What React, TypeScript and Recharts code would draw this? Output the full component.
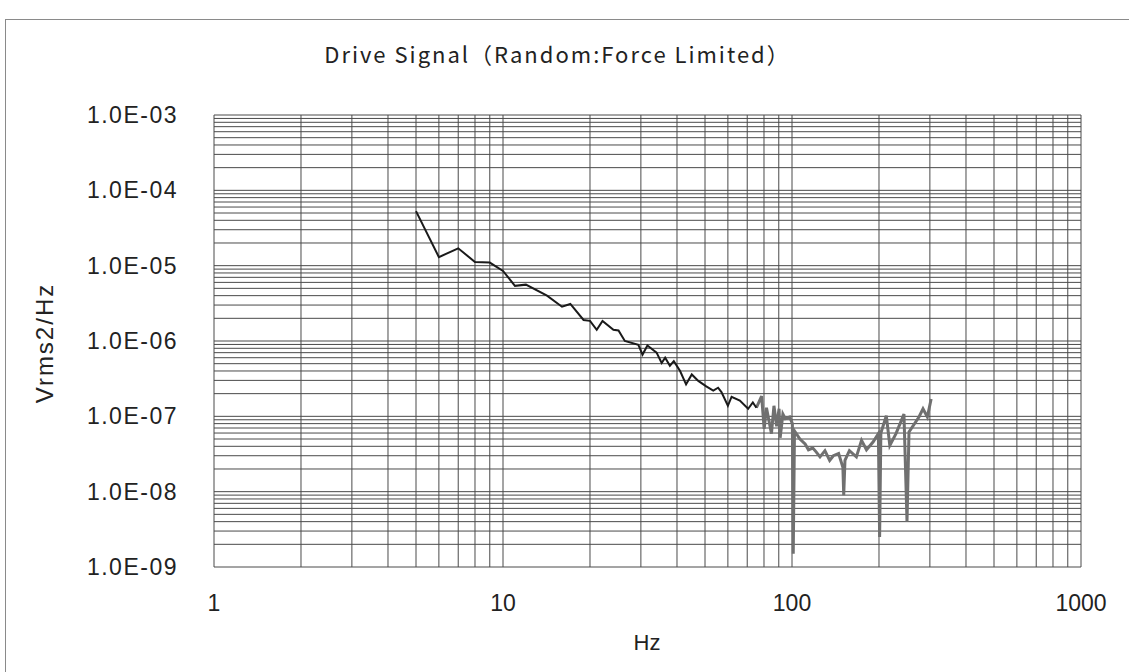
import { LineChart, Line, XAxis, YAxis, ReferenceLine } from 'recharts';

// Drive signal PSD (Hz, Vrms^2/Hz)
const freqLow = [
  5, 6, 7, 8, 9, 10, 11, 12, 14.2, 16, 17.1, 19, 20, 21.1, 22.1, 24.1, 25.1, 26.4, 29.4, 30.4,
  31.6, 34, 35.4, 36.4, 37.8, 39, 41, 43, 45, 47.4, 50.5, 53.4, 55.5, 57, 60, 61.8, 66, 70.5,
  73.2, 75.3,
];
const psdLow = [
  5.3e-5, 1.3e-5, 1.7e-5, 1.12e-5, 1.1e-5, 8.5e-6, 5.4e-6, 5.6e-6, 4.0e-6, 2.85e-6, 3.1e-6,
  1.9e-6, 1.85e-6, 1.41e-6, 1.85e-6, 1.41e-6, 1.38e-6, 1.0e-6, 8.9e-7, 6.6e-7, 8.7e-7, 7.0e-7,
  5.1e-7, 6.0e-7, 4.7e-7, 5.4e-7, 4.0e-7, 2.66e-7, 3.6e-7, 2.95e-7, 2.5e-7, 2.2e-7, 2.4e-7,
  2.1e-7, 1.38e-7, 1.82e-7, 1.62e-7, 1.26e-7, 1.53e-7, 1.3e-7,
];

// upper band (dense, drawn grey in the print)
const freqHigh = [
  75.3, 78.5, 80.1, 81.6, 84.9, 86.6, 88.5, 90.2, 91, 93, 94.8, 98.2, 100.3, 101, 102, 106.5, 111,
  114, 118, 121, 125, 130, 135, 139, 145, 150, 151, 152.5, 158, 167, 174, 181, 191, 199, 201, 203,
  212, 218, 229, 244, 250, 254, 275, 284, 294, 303,
];
const psdHigh = [
  1.3e-7, 1.86e-7, 6.8e-8, 1.3e-7, 5.9e-8, 1.38e-7, 7.4e-8, 1.26e-7, 5.2e-8, 1.07e-7, 9.3e-8,
  9.8e-8, 8.0e-8, 1.5e-9, 6.4e-8, 5.0e-8, 4.3e-8, 3.6e-8, 3.8e-8, 3.4e-8, 2.9e-8, 3.5e-8, 2.6e-8,
  3.0e-8, 3.2e-8, 2.1e-8, 9.0e-9, 2.6e-8, 3.5e-8, 2.9e-8, 4.8e-8, 3.6e-8, 4.6e-8, 5.9e-8, 2.5e-9,
  6.0e-8, 1.02e-7, 4.1e-8, 5.9e-8, 1.07e-7, 4.0e-9, 6.2e-8, 9.8e-8, 1.26e-7, 9.8e-8, 1.7e-7,
];

const xTicks = [1, 10, 100, 1000];
const xTickLabels = ['1', '10', '100', '1000'];
const yTicks = [1e-9, 1e-8, 1e-7, 1e-6, 1e-5, 1e-4, 1e-3];
const yTickLabels = ['1.0E-09', '1.0E-08', '1.0E-07', '1.0E-06', '1.0E-05', '1.0E-04', '1.0E-03'];

const steps = [1, 2, 3, 4, 5, 6, 7, 8, 9];
const xDecades = [1, 10, 100];
const yDecades = [1e-9, 1e-8, 1e-7, 1e-6, 1e-5, 1e-4];
const xGrid = xDecades.flatMap((d) => steps.map((s) => s * d)).concat(1000);
const yGrid = yDecades.flatMap((d) => steps.map((s) => s * d)).concat(1e-3);

const lowData = freqLow.map((f, i) => ({ f, v: psdLow[i] }));
const highData = freqHigh.map((f, i) => ({ f, v: psdHigh[i] }));

const labelFont = '"Liberation Sans", Arial, sans-serif';
const gridColor = '#4a4a4a';

export default function App() {
  return (
    <div
      style={{
        position: 'absolute',
        left: 0,
        top: 0,
        width: 1129,
        height: 672,
        background: '#fff',
        overflow: 'hidden',
        fontFamily: labelFont,
      }}
    >
      {/* outer frame */}
      <div
        style={{
          position: 'absolute',
          left: 5,
          top: 19,
          width: 1140,
          height: 700,
          borderLeft: '1px solid #8a8a8a',
          borderTop: '1px solid #8a8a8a',
        }}
      />
      <div
        style={{
          position: 'absolute',
          left: 0,
          width: 1129,
          top: 37,
          textAlign: 'center',
          fontFamily: '"Noto Sans CJK JP", sans-serif',
          fontSize: 22,
          letterSpacing: 2,
          color: '#222',
        }}
      >
        <span style={{ position: 'relative', left: -7 }}>Drive Signal（Random:Force Limited）</span>
      </div>
      <div
        style={{
          position: 'absolute',
          left: 45,
          top: 343,
          transform: 'translate(-50%, -50%) rotate(-90deg)',
          fontSize: 24,
          letterSpacing: 2,
          color: '#222',
          whiteSpace: 'nowrap',
        }}
      >
        Vrms2/Hz
      </div>
      <div
        style={{
          position: 'absolute',
          left: 647,
          top: 643,
          transform: 'translate(-50%, -50%)',
          fontSize: 22,
          color: '#222',
        }}
      >
        Hz
      </div>

      <div style={{ position: 'absolute', left: 0, top: 0 }}>
        <LineChart width={1129} height={672} margin={{ top: 115, right: 48, bottom: 45, left: 84 }}>
          <XAxis
            type="number"
            dataKey="f"
            scale="log"
            domain={[1, 1000]}
            ticks={xTicks}
            allowDataOverflow
            axisLine={false}
            tickLine={false}
            tickSize={0}
            tickMargin={28}
            height={60}
            tick={{ fontSize: 23, fill: '#222', fontFamily: labelFont }}
            tickFormatter={(v: number) => xTickLabels[Math.round(Math.log10(v))]}
          />
          <YAxis
            type="number"
            dataKey="v"
            scale="log"
            domain={[1e-9, 1e-3]}
            ticks={yTicks}
            allowDataOverflow
            axisLine={false}
            tickLine={false}
            tickSize={0}
            tickMargin={36}
            width={130}
            tick={{ fontSize: 23, fill: '#222', fontFamily: labelFont, letterSpacing: 1.5 }}
            tickFormatter={(v: number) => yTickLabels[Math.round(Math.log10(v)) + 9]}
          />
          {xGrid.map((x) => (
            <ReferenceLine key={'x' + x} x={x} stroke={gridColor} strokeWidth={1} />
          ))}
          {yGrid.map((y) => (
            <ReferenceLine key={'y' + y} y={y} stroke={gridColor} strokeWidth={1} />
          ))}
          <Line
            data={highData}
            dataKey="v"
            type="linear"
            stroke="#707070"
            strokeWidth={3}
            dot={false}
            isAnimationActive={false}
          />
          <Line
            data={lowData}
            dataKey="v"
            type="linear"
            stroke="#1a1a1a"
            strokeWidth={2}
            dot={false}
            isAnimationActive={false}
          />
        </LineChart>
      </div>
    </div>
  );
}
